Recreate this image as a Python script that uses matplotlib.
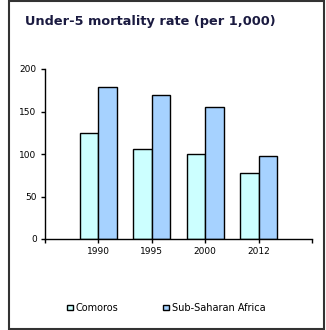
import matplotlib.pyplot as plt
from matplotlib.patches import Rectangle, Patch
import numpy as np

years = ['1990', '1995', '2000', '2012']
comoros = [125, 106, 100, 78]
ssa = [179, 170, 155, 98]

fig = plt.figure(figsize=(3.26, 3.30), dpi=100)
fig.patches.append(Rectangle((9 / 326, 0.003), 315 / 326, 0.994, transform=fig.transFigure,
                             fill=False, edgecolor='#333333', linewidth=1.5))

ax = fig.add_axes([45 / 326, 1 - 239 / 330, 267 / 326, 170 / 330])
x = np.arange(1, len(years) + 1)
w = 0.35
ax.bar(x - w / 2, comoros, w, color='#ccffff', edgecolor='black', linewidth=1, label='Comoros')
ax.bar(x + w / 2, ssa, w, color='#a6d2ff', edgecolor='black', linewidth=1, label='Sub-Saharan Africa')

ax.set_xlim(0, 5)
ax.set_ylim(0, 200)
ax.set_yticks([0, 50, 100, 150, 200])
ax.set_xticks(range(6))
ax.set_xticklabels([''] + years + [''])
ax.tick_params(axis='both', labelsize=6.5, length=3, width=1, colors='black', pad=3)
for s in ['top', 'right']:
    ax.spines[s].set_visible(False)
for s in ['left', 'bottom']:
    ax.spines[s].set_linewidth(1)

fig.text(25 / 326, 1 - 22 / 330, 'Under-5 mortality rate (per 1,000)', fontsize=9.3,
         fontweight='bold', color='#1a1a40', va='center', ha='left')

handles = [Patch(facecolor='#ccffff', edgecolor='black', label='Comoros'),
           Patch(facecolor='#a6d2ff', edgecolor='black', label='Sub-Saharan Africa')]
fig.legend(handles=handles, loc='center left', bbox_to_anchor=(67 / 326, 1 - 308 / 330), ncol=2,
           frameon=False, fontsize=7, handlelength=0.6, handleheight=0.5, handletextpad=0.3,
           columnspacing=4.6, borderaxespad=0, borderpad=0)

fig.savefig('out.png', dpi=100)
